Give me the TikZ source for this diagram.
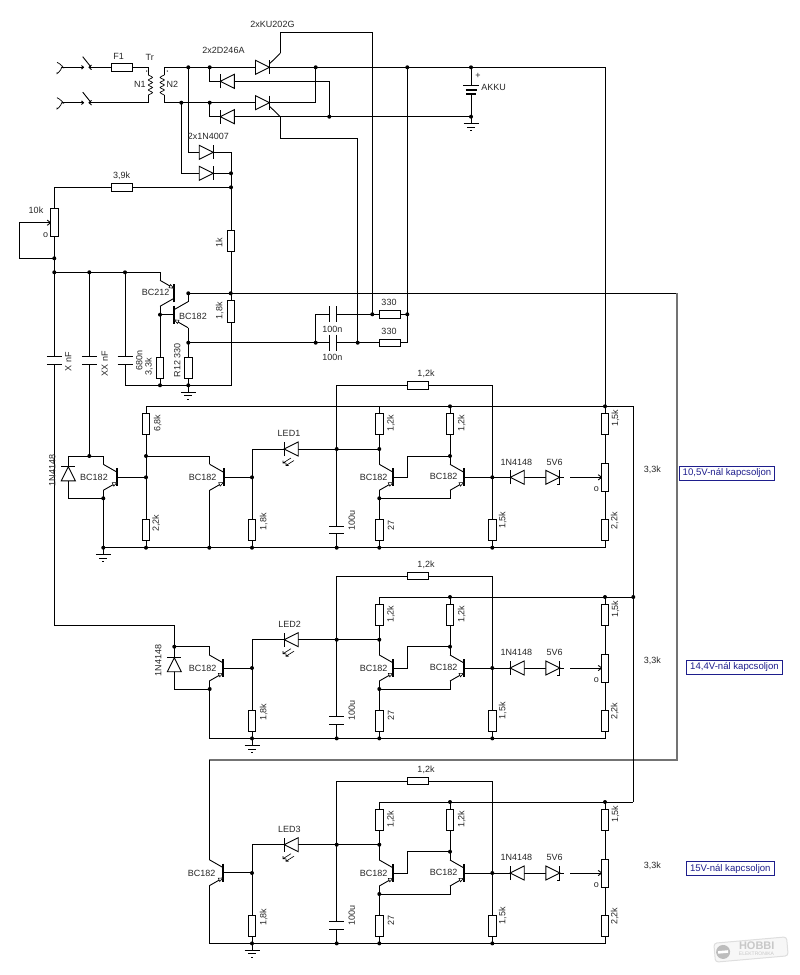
\documentclass[tikz,border=0pt]{standalone}
\usepackage{fontspec}
\setmainfont{Liberation Sans}
\definecolor{boxblue}{RGB}{30,30,140}
\definecolor{wm}{RGB}{222,222,222}
\newcount\lblc
\newcommand\lbl[3][0]{\global\advance\lblc 1 \node[txt,rotate=#1] (lbl\the\lblc) at (#2) {#3};}
\newcommand\resv[2]{\draw[part] (#1,#2) ++(-3.65,-10.7) rectangle ++(7.3,21.4);}
\newcommand\resh[2]{\draw[part] (#1,#2) ++(-10.7,-3.65) rectangle ++(21.4,7.3);}
\newcommand\potv[2]{\draw[part] (#1,#2) ++(-3.65,-14) rectangle ++(7.3,28);}
\newcommand\chev[2]{\draw (#1,#2) ++(-3.5,-2.6) -- ++(3.5,2.6) -- ++(-3.5,2.6);}
\newcommand\capv[2]{\fill[white] (#1,#2) ++(-7.5,-3.7) rectangle ++(15,7.4);
  \draw (#1,#2) ++(-7.5,-3.7) -- ++(15,0) ++(-15,7.4) -- ++(15,0);}
\newcommand\caph[2]{\fill[white] (#1,#2) ++(-3.4,-8) rectangle ++(6.8,16);
  \draw (#1,#2) ++(-3.4,-8) -- ++(0,16) ++(6.8,-16) -- ++(0,16);}
\newcommand\diode[3][]{\begin{scope}[shift={(#2,#3)},#1]
  \draw[part] (-7,-7) -- (-7,7) -- (7,0) -- cycle; \draw (7,-7) -- (7,7);\end{scope}}
\newcommand\zener[2]{\diode{#1}{#2}\draw (#1,#2) ++(7,7) -- ++(-2.5,0);}
\newcommand\trans[3][]{\begin{scope}[shift={(#2,#3)},#1]
  \draw[line width=1.7pt] (0,-9) -- (0,9);
  \draw (0,-5) -- (-14,-13); \draw (0,5) -- (-14,13);
  \draw[part,line width=.6pt] (-.5,5.3) -- (-5,5.4) -- (-3.5,8.8) -- cycle;\end{scope}}
\newcommand\gnd[2]{\draw (#1,#2) -- ++(0,6.8) ++(-7.5,0) -- ++(15,0) ++(-11.5,3.6) -- ++(8,0);
  \draw[line width=.5pt] (#1,#2) ++(-1,14) -- ++(2,0);}
\newcommand\ledarrows[2]{\begin{scope}[shift={(#1,#2)},line width=.6pt]
  \draw (8,0) -- (0,5) ++(0,-2.5) -- ++(0,2.5) -- ++(2.5,0);
  \draw (11,2.5) -- (3,7.5) ++(0,-2.5) -- ++(0,2.5) -- ++(2.5,0);\end{scope}}
\newcommand\sw[1]{\draw (61.7,#1) -- (83.5,#1); \draw (81.5,#1) ++(0,-1.8) -- ++(2,1.8) -- ++(-2,1.8);
  \draw (82.7,#1) ++(0,-10.6) -- ++(8,10); \draw (91.5,#1) ++(0,-2.3) -- ++(-2.5,2.3) -- ++(2.5,2.3);
  \draw[line width=.7pt] (57,#1) ++(0,-5) .. controls ++(3,1) and ++(4.7,2.6) .. ++(4.7,5) .. controls ++(0,2.6) and ++(-1.7,4) .. ++(-4.7,5);}
\newcommand\stagecommon{%
  \draw (336.7,547.7) -- (336.7,385.3) -- (492.3,385.3) -- (492.3,547.7);
  \draw (252,449) -- (379.3,449);
  \draw (252,449) -- (252,547.7) -- (605,547.7) -- (605,406.3);
  \draw (379.3,406.3) -- (633.3,406.3);
  \draw (379.3,406.3) -- (379.3,464.3);
  \draw (379.3,490.3) -- (379.3,547.7);
  \draw (393.3,477.3) -- (407.3,477.3) -- (407.3,456) -- (450,456);
  \draw (450,406.3) -- (450,464.3);
  \draw (450,490.3) -- (450,498.3) -- (379.3,498.3);
  \draw (464,477.3) -- (564,477.3);
  \draw (570,477.3) -- (601.7,477.3);
  \chev{601.7}{477.3}
  \resv{379.3}{424}\resv{450}{424}\resv{379.3}{530}\resv{492.3}{530}
  \resv{605}{424}\resv{605}{530}\resv{252}{530}\resh{418}{385.3}
  \potv{605}{477.3}\capv{336.7}{529.7}
  \trans{393.3}{477.3}\trans{464}{477.3}
  \diode[rotate=180]{517.2}{477.3}\zener{552.8}{477.3}
  \diode[rotate=180]{291.2}{449}\ledarrows{283}{458}
  \foreach \p in {(252,477.3),(252,547.7),(336.7,449),(336.7,547.7),(379.3,449),(379.3,498.3),(379.3,547.7),(450,406.3),(450,456),(492.3,477.3),(492.3,547.7),(605,406.3)} \fill \p circle (2);
  \lbl{426,374}{1,2k}
  \lbl[90]{391,423.3}{1,2k}\lbl[90]{461.7,423.3}{1,2k}\lbl[90]{391,525}{27}
  \lbl[90]{502.7,520}{1,5k}\lbl[90]{615.5,418.3}{1,5k}\lbl[90]{614.7,520.7}{2,2k}
  \lbl[90]{351.7,520}{100u}\lbl[90]{263.7,521.7}{1,8k}
  \lbl{373.7,477.3}{BC182}\lbl{443.7,476.5}{BC182}
  \lbl{516.3,462}{1N4148}\lbl{554.7,462}{5V6}
  \lbl{652.3,470}{3,3k}}
\tikzset{txt/.style={inner sep=0pt,font=\fontsize{9}{10}\selectfont,text=black!85},
  part/.style={draw,fill=white},
  greyline/.style={draw=black!55,line width=1.4pt},
  vbox/.style={draw=boxblue,text=boxblue,line width=.9pt,inner sep=0pt,minimum height=14pt,font=\fontsize{9.6}{10}\selectfont}}
\begin{document}
\begin{tikzpicture}[x=1pt,y=-1pt,line width=.9pt,line join=miter]
\useasboundingbox (0,0) rectangle (800,975);
% mains input and transformer
\sw{67.3}\sw{102.7}
\draw (89,67.3) -- (148.3,67.3) -- (148.3,75);
\draw (148.3,95) -- (148.3,102.7) -- (89,102.7);
\draw[line width=.7pt] plot[smooth] coordinates {(148.3,75)(152.5,77.5)(148.3,80)(152.5,82.5)(148.3,85)(152.5,87.5)(148.3,90)(152.5,92.5)(148.3,95)};
\draw[line width=.7pt] plot[smooth] coordinates {(164.3,75)(160.1,77.5)(164.3,80)(160.1,82.5)(164.3,85)(160.1,87.5)(164.3,90)(160.1,92.5)(164.3,95)};
\resh{121.7}{67.3}
\fill (146.7,71) circle (.7); \fill (167.3,71) circle (.7);
% secondary and rectifier wiring
\draw (164.3,75) -- (164.3,67.3) -- (605,67.3) -- (605,406.3);
\draw (164.3,95) -- (164.3,102.7) -- (315.7,102.7) -- (315.7,67.3);
\draw (209.7,67.3) -- (209.7,81.3) -- (329.3,81.3) -- (329.3,116.7);
\draw (209.7,102.7) -- (209.7,116.7) -- (471,116.7);
\draw (471,67.3) -- (471,116.7);
\draw (188.3,67.3) -- (188.3,152.3) -- (231,152.3) -- (231,385.3) -- (125,385.3) -- (125,272.3);
\draw (181.3,102.7) -- (181.3,173.3) -- (231,173.3);
\draw (54.3,187.3) -- (231,187.3);
\draw (54.3,187.3) -- (54.3,625.7) -- (174.3,625.7) -- (174.3,689) -- (209.7,689);
\draw (19,258.3) -- (19,222.7) -- (50.7,222.7);
\draw (19,258.3) -- (54.3,258.3);
\chev{50.7}{222.7}
\draw (54.3,272.3) -- (160,272.3) -- (160,280.3);
\draw (160,306.3) -- (160,385.3);
\draw (160,314.7) -- (174,314.7);
\draw (89.3,272.3) -- (89.3,456);
\draw (188.3,293.3) -- (677,293.3);
\draw[greyline] (677,293.3) -- (677,760) -- (209.3,760);
\draw (209.3,760) -- (209.3,860);
\draw (188.3,293.3) -- (188.3,301.7);
\draw (188.3,327.7) -- (188.3,385.3);
\draw (188.3,342.7) -- (407.3,342.7) -- (407.3,67.3);
\draw (315.7,342.7) -- (315.7,314.3) -- (407.3,314.3);
\draw (280.3,53.3) -- (280.3,32) -- (372.3,32) -- (372.3,314.3);
\draw (270,63.3) -- (280.3,53.3);
\draw (270,106.7) -- (280.3,116.7);
\draw (280.3,116.7) -- (280.3,138) -- (357.7,138) -- (357.7,342.7);
\draw (633.3,406.3) -- (633.3,802);
% first section, left part
\draw (146,406.3) -- (379.3,406.3);
\draw (146,406.3) -- (146,547.7);
\draw (103.3,547.7) -- (252,547.7);
\draw (68.3,456) -- (103.3,456) -- (103.3,464.3);
\draw (68.3,456) -- (68.3,498.3) -- (103.3,498.3);
\draw (103.3,490.3) -- (103.3,547.7);
\draw (117.3,477.3) -- (146,477.3);
\draw (146,456) -- (209.3,456) -- (209.3,464.3);
\draw (209.3,490.3) -- (209.3,547.7);
\draw (223.7,477.3) -- (252,477.3);
% second section, left part
\draw (174.3,646.7) -- (209.7,646.7) -- (209.7,655);
\draw (209.7,681) -- (209.7,738.7) -- (252,738.7);
\draw (223.3,668) -- (252,668);
% third section, left part
\draw (209.3,885.7) -- (209.3,943.3) -- (252,943.3);
\draw (223.3,872.7) -- (252,872.7);
% parts
\resh{121.7}{187.3}
\diode{262.5}{67.3}\diode{262.5}{102.7}
\diode[rotate=180]{227.3}{81.3}\diode[rotate=180]{227.3}{116.7}
\diode{206.2}{152.3}\diode{206.2}{173.3}
\fill[white] (464,85) rectangle (478,94);
\draw (463.3,85) -- (478.7,85); \draw[line width=1.6pt] (465.5,90) -- (476.5,90); \draw[line width=1.4pt] (466,94) -- (476,94);
\gnd{471}{116.7}
\potv{54.3}{222.8}
\resv{231}{240.7}\resv{231}{311.3}
\resv{160}{367.8}\resv{188.3}{367.8}
\capv{54.3}{360.3}\capv{89.3}{360.3}\capv{125}{360.3}
\trans[yscale=-1]{174}{293.3}\trans[xscale=-1]{174}{314.7}
\gnd{188.3}{385.3}
\resh{390}{314.3}\resh{390}{342.7}
\caph{333.3}{314.3}\caph{333.3}{342.7}
\resv{146}{424.2}\resv{146}{530}
\trans{117.3}{477.3}\trans{223.7}{477.3}
\diode[rotate=90]{68.3}{473.8}
\gnd{103.3}{547.7}
\diode[rotate=90]{174.3}{664.7}
\trans{223.3}{668}
\gnd{252}{738.7}
\trans{223.3}{872.7}
\gnd{252}{943.3}
% common right-hand stages
\stagecommon
\begin{scope}[yshift=-190.7pt]\stagecommon\end{scope}
\begin{scope}[yshift=-395.7pt]\stagecommon\end{scope}
% dots
\foreach \p in {(188.3,67.3),(209.7,67.3),(315.7,67.3),(407.3,67.3),(471,67.3),
  (181.3,102.7),(209.7,102.7),(329.3,116.7),(471,116.7),(231,173.3),(231,187.3),
  (54.3,258.3),(54.3,272.3),(89.3,272.3),(125,272.3),(188.3,293.3),(230.7,293.3),
  (160,314.7),(188.3,342.7),(160,385.3),(188.3,385.3),(315.7,342.7),(357.7,342.7),
  (372.3,314.3),(407.3,314.3),(89.3,456),(146,456),(146,477.3),(146,547.7),
  (103.3,498.3),(103.3,547.7),(209.3,547.7),(174.3,646.7),(209.7,689),(633.3,597)}
  \fill \p circle (2);
% labels
\lbl{118.7,56.7}{F1}\lbl{149.7,57.3}{Tr}\lbl{140,84.7}{N1}\lbl{172.3,84.7}{N2}
\lbl{272.5,24}{2xKU202G}\lbl{223.5,50.7}{2x2D246A}\lbl{208.3,136.7}{2x1N4007}
\lbl{121.7,176}{3,9k}\lbl{36,210.7}{10k}\lbl{45.7,235.3}{o}
\lbl{478,76}{+}\lbl{493.5,87.7}{AKKU}
\lbl[90]{219,242.7}{1k}\lbl[90]{219.7,310.7}{1,8k}
\lbl{155.7,292.7}{BC212}\lbl{193,316}{BC182}
\lbl[90]{68.3,361.7}{X nF}\lbl[90]{104.7,363.7}{XX nF}\lbl[90]{139.3,360.7}{680n}
\lbl[90]{149,366.7}{3,3k}\lbl[90]{177.3,360.3}{R12 330}
\lbl{389,302.7}{330}\lbl{389,331}{330}\lbl{332.3,329.3}{100n}\lbl{332.3,357.3}{100n}
\lbl[90]{157.7,423.3}{6,8k}\lbl[90]{156.3,523.3}{2,2k}\lbl[90]{52.3,470.3}{1N4148}
\lbl{94,477.3}{BC182}\lbl{202.7,477.3}{BC182}
\lbl{289,433.3}{LED1}\lbl{289.7,624.3}{LED2}\lbl{289.3,829.3}{LED3}
\lbl[90]{158.3,660.7}{1N4148}\lbl{202.7,668.7}{BC182}\lbl{201.7,873.3}{BC182}
\lbl{596.3,489.3}{o}\lbl{596.3,680}{o}\lbl{596.3,885}{o}
\node[vbox,minimum width=95.4pt] (box1) at (727,473) {10,5V-nál kapcsoljon};
\node[vbox,minimum width=95.6pt] (box2) at (734.5,667) {14,4V-nál kapcsoljon};
\node[vbox,minimum width=87.3pt] (box3) at (730.3,868.7) {15V-nál kapcsoljon};
% watermark
\begin{scope}[shift={(751,949.5)},rotate=5]
\draw[wm,fill=black!3,rounded corners=3pt,line width=1pt] (-36.5,-9.5) rectangle (36.5,9.5);
\fill[wm!85!black] (-28,0) circle (7);
\fill[white] (-33,-1.3) rectangle (-23,1.3);
\node[inner sep=0pt,text=wm!90!black,font=\fontsize{11}{11}\selectfont\bfseries] (wm1) at (6,-3) {HOBBI};
\node[inner sep=0pt,text=wm!90!black,font=\fontsize{5}{5}\selectfont] (wm2) at (5,5) {ELEKTRONIKA};
\end{scope}
\end{tikzpicture}
\end{document}
